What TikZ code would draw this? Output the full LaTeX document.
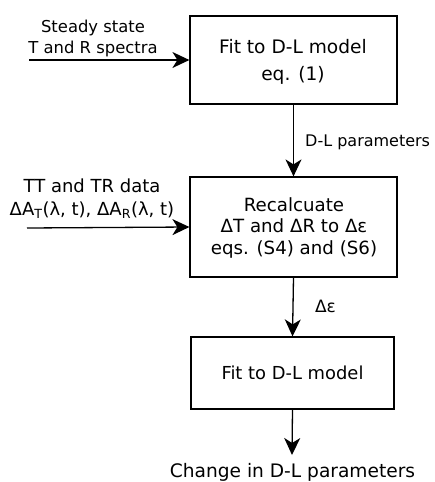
\documentclass[tikz,border=0pt]{standalone}
\usepackage{fontspec}
\usepackage{tikz}
\usetikzlibrary{arrows.meta}
\setmainfont{DejaVu Sans}

\tikzset{
    stepbox/.style={draw, line width=1.2pt, inner sep=0pt},
    boxtext/.style={align=center, inner sep=0pt},
    flowarrow/.style={line width=1.3pt, -{Stealth[length=17pt,width=16pt,inset=5pt]}},
    smalltext/.style={align=center, inner sep=0pt}
}

\begin{document}
\begin{tikzpicture}[x=1pt,y=-1pt]
    \useasboundingbox (0,0) rectangle (435,482);
    % boxes
    \node[stepbox, minimum width=207pt, minimum height=88pt] (fitone) at (293.5,60) {};
    \node[stepbox, minimum width=207pt, minimum height=100pt] (recalc) at (293.5,227) {};
    \node[stepbox, minimum width=203pt, minimum height=72pt] (fittwo) at (292.5,373) {};
    \node[boxtext, font=\fontsize{18.6}{27}\selectfont] (fitonetext) at (293,61.6)
        {Fit to D-L model\\ eq. (1)};
    \node[boxtext, font=\fontsize{18.2}{21.7}\selectfont] (recalctext) at (294,227.7)
        {Recalcuate\\ ΔT and ΔR to Δε\\ eqs. (S4) and (S6)};
    \node[boxtext, anchor=base, font=\fontsize{17.9}{22}\selectfont] (fittwotext) at (292.5,379.5)
        {Fit to D-L model};
    % inputs
    \coordinate (steadyin) at (29,60);
    \coordinate (ttin) at (27,228);
    \coordinate (changeout) at (292,455);
    \node[smalltext, font=\fontsize{16.4}{21}\selectfont] (steadylabel) at (93,38)
        {Steady state\\ T and R spectra};
    \node[smalltext, font=\fontsize{18}{23.3}\selectfont] (ttlabel) at (92,198.5)
        {TT and TR data\\ ΔA\textsubscript{T}(λ, t), ΔA\textsubscript{R}(λ, t)};
    \draw[flowarrow] (steadyin) -- (fitone.west);
    \draw[flowarrow] (ttin) -- (recalc.west);
    % arrows between boxes
    \draw[flowarrow] (fitone.south) -- (recalc.north);
    \draw[flowarrow] (recalc.south) -- (fittwo.north);
    \draw[flowarrow] (fittwo.south) -- (changeout);
    \node[smalltext, anchor=base west, font=\fontsize{16}{20}\selectfont] (dllabel) at (305,146.5)
        {D-L parameters};
    \node[smalltext, anchor=base, font=\fontsize{17}{20}\selectfont] (epslabel) at (325.5,312) {Δε};
    \node[smalltext, anchor=base, font=\fontsize{18.6}{22}\selectfont] (changelabel) at (292.5,477.3)
        {Change in D-L parameters};
\end{tikzpicture}
\end{document}
